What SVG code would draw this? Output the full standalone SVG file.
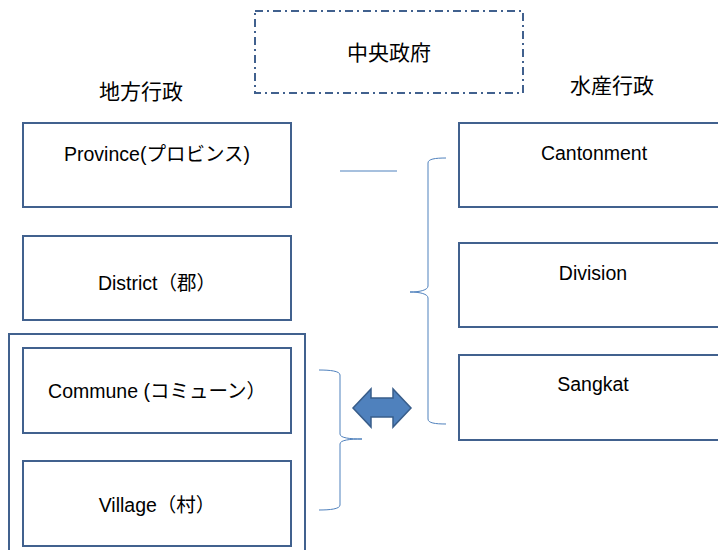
<svg xmlns="http://www.w3.org/2000/svg" width="718" height="550" viewBox="0 0 718 550">
<style>
.box{fill:#fff;stroke:#41618E;stroke-width:2}
.t{font-family:"Liberation Sans","Noto Sans CJK JP",sans-serif;font-size:19.5px;fill:#000;text-anchor:middle}
.h{font-family:"Noto Sans CJK JP","Liberation Sans",sans-serif;font-size:21px;fill:#000;text-anchor:middle}
.br{fill:none;stroke:#4F81BD;stroke-width:1}
</style>
<rect width="718" height="550" fill="#fff"/>
<g id="central">
<rect x="255" y="11" width="268" height="82" fill="none" stroke="#41618E" stroke-width="2" stroke-dasharray="8,4,2,4"/>
<text class="h" x="389" y="60">中央政府</text>
</g>
<g id="label-local"><text class="h" x="141" y="99">地方行政</text></g>
<g id="label-fish"><text class="h" x="612" y="93">水産行政</text></g>
<g id="province"><rect class="box" x="23" y="123" width="268" height="84"/><text class="t" x="157" y="161">Province(プロビンス)</text></g>
<g id="district"><rect class="box" x="23" y="236" width="268" height="84"/><text class="t" x="157" y="290">District（郡）</text></g>
<g id="outer"><rect class="box" x="9" y="334" width="296" height="230"/></g>
<g id="commune"><rect class="box" x="23" y="348" width="268" height="85"/><text class="t" x="157" y="398">Commune (コミューン）</text></g>
<g id="village"><rect class="box" x="23" y="461" width="268" height="85"/><text class="t" x="157" y="512">Village（村）</text></g>
<g id="cantonment"><rect class="box" x="459" y="123" width="270" height="84"/><text class="t" x="594" y="160">Cantonment</text></g>
<g id="division"><rect class="box" x="459" y="243" width="270" height="84"/><text class="t" x="593" y="280">Division</text></g>
<g id="sangkat"><rect class="box" x="459" y="355" width="270" height="85"/><text class="t" x="593" y="391">Sangkat</text></g>
<g id="connectors">
<line x1="340" y1="171" x2="397" y2="171" stroke="#4F81BD" stroke-width="1"/>
<path class="br" d="M446,158 C435,158 428,159 428,163 L428,286 C428,290 420,292 410,292 C420,292 428,294 428,298 L428,419 C428,423 435,424 446,424"/>
<path class="br" d="M319,370 C330,370 340,371 340,375 L340,434 C340,438 350,439 362,439 C350,439 340,440 340,444 L340,505 C340,509 330,510 319,510"/>
<path d="M353,408 L371,389 L371,398 L393,398 L393,389 L411,408 L393,427 L393,417 L371,417 L371,427 Z" fill="#4F81BD" stroke="#385D8A" stroke-width="1.5"/>
</g>
</svg>
